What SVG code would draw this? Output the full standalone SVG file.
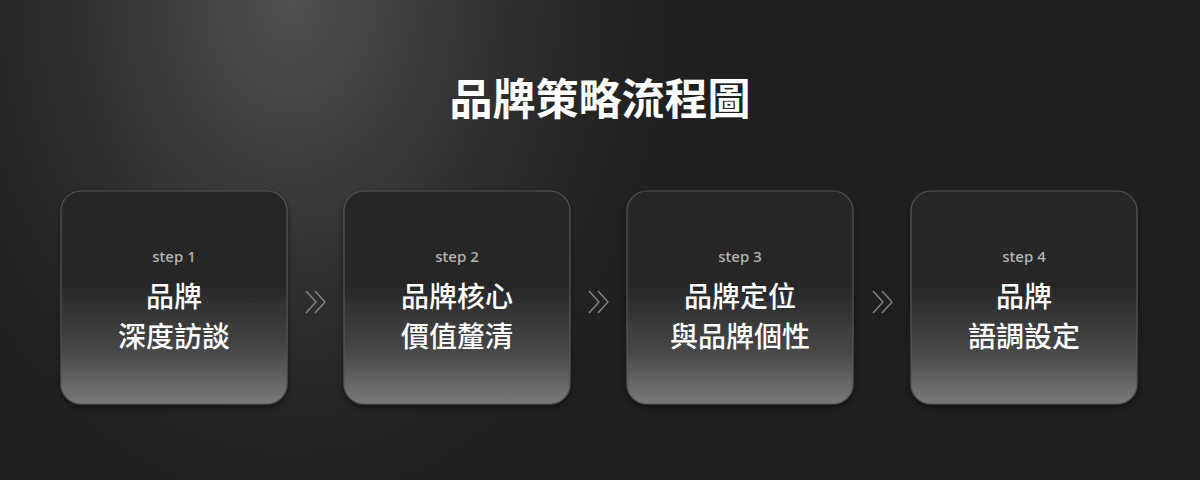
<svg xmlns="http://www.w3.org/2000/svg" width="1200" height="480" viewBox="0 0 1200 480">
<defs>
<radialGradient id="glow" cx="290" cy="0" r="520" gradientUnits="userSpaceOnUse" gradientTransform="translate(290 0) scale(0.9 1.2) translate(-290 0)">
<stop offset="0" stop-color="#505050"/>
<stop offset="0.45" stop-color="#303030"/>
<stop offset="1" stop-color="#1e1e1e" stop-opacity="0"/>
</radialGradient>
<linearGradient id="card" x1="0" y1="0" x2="0" y2="1">
<stop offset="0" stop-color="#252525"/>
<stop offset="0.45" stop-color="#282828"/>
<stop offset="0.75" stop-color="#474747"/>
<stop offset="1" stop-color="#7a7a7a"/>
</linearGradient>
<filter id="shadow" x="-10%" y="-10%" width="120%" height="125%">
<feDropShadow dx="0" dy="3" stdDeviation="3" flood-color="#000" flood-opacity="0.5"/>
</filter>
</defs>
<style>
.card{fill:url(#card);stroke:#555;stroke-width:1.2;filter:url(#shadow)}
.step{font-family:"Noto Sans","Noto Sans CJK TC",sans-serif;font-size:15px;fill:#b8b8b8;text-anchor:middle;font-weight:500}
.main{font-family:"Noto Sans CJK TC",sans-serif;font-size:28px;fill:#fff;text-anchor:middle;font-weight:500}
.title{font-family:"Noto Sans CJK TC",sans-serif;font-size:43px;fill:#fff;text-anchor:middle;font-weight:700}
.chev{fill:none;stroke:#8a8a8a;stroke-width:1.3}
</style>
<rect width="1200" height="480" fill="#1f1f1f"/>
<rect width="1200" height="480" fill="url(#glow)"/>
<text class="title" x="600" y="115">品牌策略流程圖</text>

<g id="step1">
<rect class="card" x="61" y="191" width="226" height="213" rx="20"/>
<text class="step" x="174" y="262">step 1</text>
<text class="main" x="174" y="307">品牌</text>
<text class="main" x="174" y="347">深度訪談</text>
</g>
<g id="step2">
<rect class="card" x="344" y="191" width="226" height="213" rx="20"/>
<text class="step" x="457" y="262">step 2</text>
<text class="main" x="457" y="307">品牌核心</text>
<text class="main" x="457" y="347">價值釐清</text>
</g>
<g id="step3">
<rect class="card" x="627" y="191" width="226" height="213" rx="20"/>
<text class="step" x="740" y="262">step 3</text>
<text class="main" x="740" y="307">品牌定位</text>
<text class="main" x="740" y="347">與品牌個性</text>
</g>
<g id="step4">
<rect class="card" x="911" y="191" width="226" height="213" rx="20"/>
<text class="step" x="1024" y="262">step 4</text>
<text class="main" x="1024" y="307">品牌</text>
<text class="main" x="1024" y="347">語調設定</text>
</g>

<g id="connectors">
<path class="chev" d="M306 291 L316 302 L306 313 M315 291 L325 302 L315 313"/>
<path class="chev" d="M589 291 L599 302 L589 313 M598 291 L608 302 L598 313"/>
<path class="chev" d="M873 291 L883 302 L873 313 M882 291 L892 302 L882 313"/>
</g>
</svg>
